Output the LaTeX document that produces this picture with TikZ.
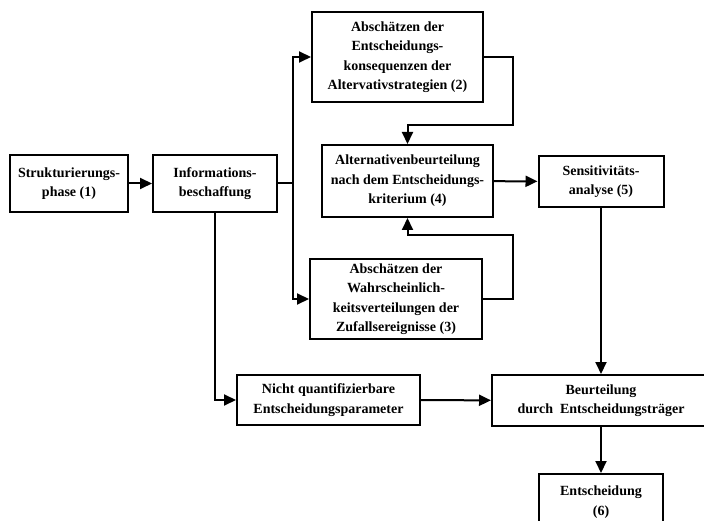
\documentclass[tikz,border=0pt]{standalone}
\usepackage{fontspec}
\setmainfont{Liberation Serif}
\usetikzlibrary{arrows.meta}
\begin{document}
\begin{tikzpicture}[x=1pt,y=-1pt,
  box/.style={draw,line width=2pt,align=center,inner sep=0pt,
    font=\fontsize{14}{19.5}\selectfont\bfseries},
  arr/.style={line width=2pt,-{Triangle[length=12pt,width=11pt]}},
  ln/.style={line width=2pt}]
\useasboundingbox (0,0) rectangle (704,521);
\begin{scope}
\clip (0,0) rectangle (704,521);
\node[box,minimum width=118pt,minimum height=57pt] (s1) at (69,183.5) {Strukturierungs-\\phase (1)};
\node[box,minimum width=124pt,minimum height=57pt] (info) at (215,183.5) {Informations-\\beschaffung};
\node[box,minimum width=171pt,minimum height=90pt] (b2) at (397.5,57) {Abschätzen der\\Entscheidungs-\\konsequenzen der\\Altervativstrategien (2)};
\node[box,minimum width=171pt,minimum height=72pt] (b4) at (407.5,181) {Alternativenbeurteilung\\nach dem Entscheidungs-\\kriterium (4)};
\node[box,minimum width=125pt,minimum height=51pt] (b5) at (601,181.5) {Sensitivitäts-\\analyse (5)};
\node[box,minimum width=172pt,minimum height=80pt] (b3) at (396,299) {Abschätzen der\\Wahrscheinlich-\\keitsverteilungen der\\Zufallsereignisse (3)};
\node[box,minimum width=183pt,minimum height=50pt] (nq) at (328.5,400) {Nicht quantifizierbare\\Entscheidungsparameter};
\node[box,minimum width=218pt,minimum height=51pt] (be) at (601,400.5) {Beurteilung\\durch~ Entscheidungsträger};
\node[box,minimum width=124pt,minimum height=56pt,anchor=north] (en) at (601,473) {Entscheidung\\(6)};

\draw[arr] (s1) -- (info);
\draw[ln] (info.east) -- (293,183.5) coordinate (bus);
\draw[arr] (bus) |- (b2.west);
\draw[arr] (bus) |- (b3.west);
\coordinate (r2) at (513,125);
\coordinate (r3) at (513,235);
\draw[arr] (b2.east) -| (r2) -| (b4.north);
\draw[arr] (b3.east) -| (r3) -| (b4.south);
\draw[arr] (b4) -- (b5);
\draw[arr] (b5) -- (be);
\draw[arr] (info.south) |- (nq.west);
\draw[arr] (nq) -- (be);
\draw[arr] (be) -- (en);
\end{scope}
\end{tikzpicture}
\end{document}
